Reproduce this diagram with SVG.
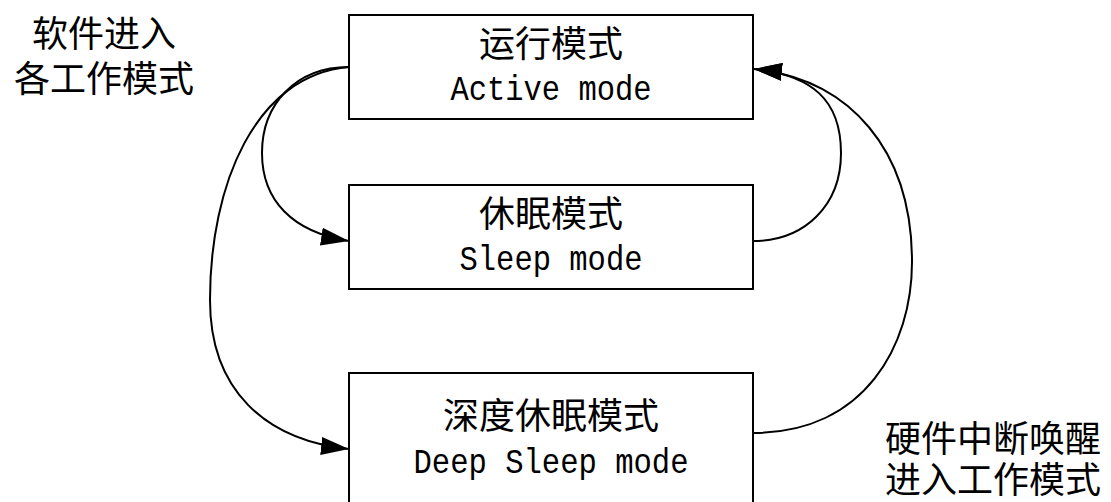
<svg xmlns="http://www.w3.org/2000/svg" width="1111" height="502" viewBox="0 0 1111 502">
<style>
.box{fill:#fff;stroke:#000;stroke-width:2}
.cn{font-family:"Noto Sans CJK SC","Noto Sans CJK JP",sans-serif;font-size:36px;fill:#000}
.en{font-family:"Liberation Mono",monospace;font-size:35px;fill:#000}
.mid{text-anchor:middle}
.conn{fill:none;stroke:#000;stroke-width:2;marker-end:url(#arr)}
</style>
<defs>
<marker id="arr" markerUnits="userSpaceOnUse" markerWidth="30" markerHeight="20" refX="28" refY="9" orient="auto">
<path d="M0,0 L28,9 L0,18 Z" fill="#000"/>
</marker>
</defs>
<rect width="1111" height="502" fill="#fff"/>
<g id="connectors">
<path class="conn" d="M349,67 C295,67 262,105 262,153 C262,200 292,232 349,241"/>
<path class="conn" d="M349,67 C255,75 210,185 210,300 C210,390 265,440 349,449"/>
<path class="conn" d="M753,241 C805,241 841,205 841,153 C841,100 812,75 754,69"/>
<path class="conn" d="M753,433 C865,433 912,345 912,262 C912,150 850,79 754,69"/>
</g>
<g id="active">
<rect class="box" x="349" y="15" width="404" height="104"/>
<text class="cn mid" x="551" y="57">运行模式</text>
<text class="en mid" x="551" y="100" textLength="201" lengthAdjust="spacingAndGlyphs">Active mode</text>
</g>
<g id="sleep">
<rect class="box" x="349" y="185" width="404" height="104"/>
<text class="cn mid" x="551" y="227">休眠模式</text>
<text class="en mid" x="551" y="270" textLength="183" lengthAdjust="spacingAndGlyphs">Sleep mode</text>
</g>
<g id="deepsleep">
<rect class="box" x="349" y="373" width="404" height="140"/>
<text class="cn mid" x="551" y="429">深度休眠模式</text>
<text class="en mid" x="551" y="473" textLength="275" lengthAdjust="spacingAndGlyphs">Deep Sleep mode</text>
</g>
<g id="label-software">
<text class="cn mid" x="104" y="47">软件进入<tspan x="104" dy="45">各工作模式</tspan></text>
</g>
<g id="label-hardware">
<text class="cn" x="885" y="452">硬件中断唤醒<tspan x="885" dy="41">进入工作模式</tspan></text>
</g>
</svg>
